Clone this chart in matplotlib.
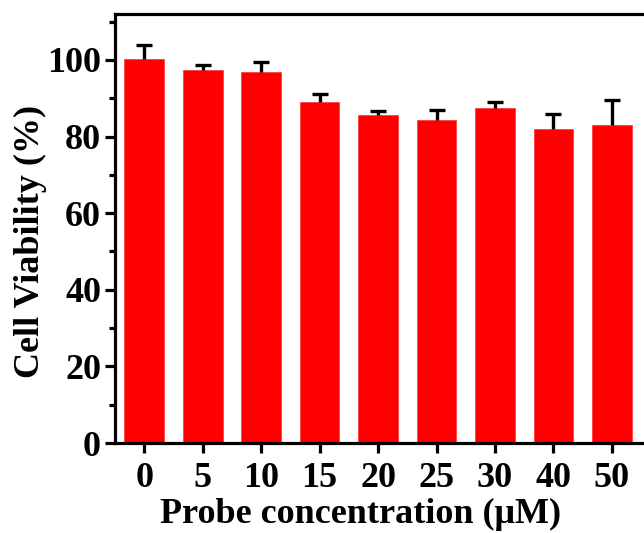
import numpy as np
import matplotlib.pyplot as plt

plt.rcParams['font.family'] = ['Liberation Serif', 'DejaVu Serif']
plt.rcParams['font.weight'] = 'bold'

conc = ['0', '5', '10', '15', '20', '25', '30', '40', '50']
viability = [100.3, 97.3, 96.9, 88.9, 85.6, 84.4, 87.5, 81.9, 83.1]
err = [3.5, 1.3, 2.6, 2.2, 1.2, 2.5, 1.5, 4.1, 6.4]

fig = plt.figure(figsize=(6.44, 5.33), dpi=100)
ax = fig.add_axes([115 / 644, 1 - 443 / 533, 532 / 644, (443 - 14) / 533])

x = np.arange(len(conc))
ax.bar(x, viability, width=0.68, color='#ff0000', edgecolor='#ff3030', linewidth=0.5, zorder=2)
eb = ax.errorbar(x, viability, yerr=[np.zeros(len(err)), err], fmt='none',
                 ecolor='black', elinewidth=2.4, capsize=5.5, capthick=2.4, zorder=3)
eb[1][0].set_visible(False)

ax.set_xlim(-0.5, 8.6)
ax.set_ylim(0, 112)
ax.set_xticks(x)
ax.set_xticklabels(conc)
ax.set_yticks([0, 20, 40, 60, 80, 100])
ax.set_yticks([10, 30, 50, 70, 90, 110], minor=True)

for s in ax.spines.values():
    s.set_linewidth(2.3)
ax.tick_params(axis='both', which='major', direction='out', length=7, width=2.3,
               labelsize=26, pad=3)
ax.tick_params(axis='x', which='major', pad=7)
ax.tick_params(axis='y', which='minor', direction='out', length=4, width=2.3)

ax.set_xlabel('Probe concentration (μM)', fontsize=26, fontweight='bold')
ax.set_ylabel('Cell Viability (%)', fontsize=26, fontweight='bold')
ax.xaxis.set_label_coords(0.462, -0.128)
ax.yaxis.set_label_coords(-0.128, 0.469)

fig.savefig('out.png', dpi=100)
